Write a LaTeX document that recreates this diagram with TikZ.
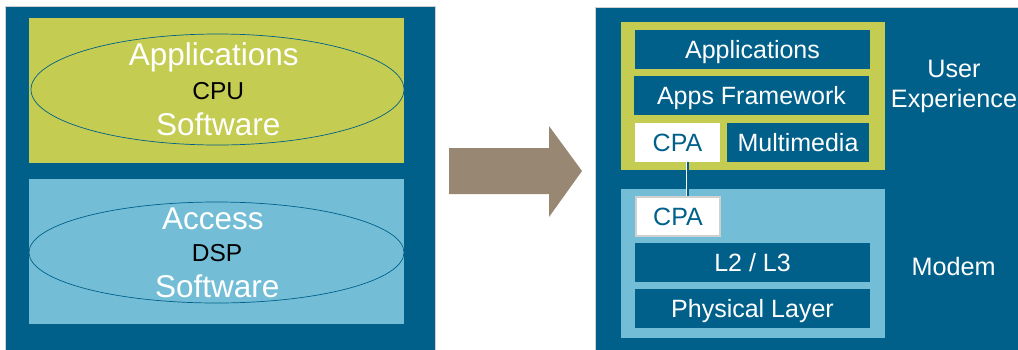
\documentclass[tikz,border=0pt]{standalone}
\usepackage{fontspec}
\setmainfont{Liberation Sans}
\usetikzlibrary{shapes.geometric}
\definecolor{dkblue}{RGB}{0,96,138}
\definecolor{lime}{RGB}{196,204,81}
\definecolor{ltblue}{RGB}{115,190,214}
\definecolor{taupe}{RGB}{152,135,115}
\definecolor{rimgray}{RGB}{208,208,208}
\tikzset{
  panel/.style={fill=dkblue, draw=rimgray, line width=0.8pt},
  layer/.style={rectangle, fill=dkblue, inner sep=0pt, text=white,
    font=\fontsize{25}{30}\selectfont, text height=18pt, text depth=0pt,
    minimum height=39pt},
  cpabox/.style={layer, fill=white, text=dkblue},
  ring/.style={ellipse, draw=dkblue, line width=0.7pt, inner sep=0pt},
  bigtxt/.style={anchor=base, text=white, inner sep=0pt, font=\fontsize{31.5}{36}\selectfont},
  coretxt/.style={anchor=base, text=black, inner sep=0pt, font=\fontsize{24.5}{30}\selectfont},
  sidetxt/.style={anchor=base, text=white, inner sep=0pt, font=\fontsize{25.2}{30}\selectfont},
  link/.style={draw=white, line width=0.8pt, double=dkblue, double distance=2pt}
}
\begin{document}
\begin{tikzpicture}[x=1pt, y=-1pt]
\useasboundingbox (0,0) rectangle (1018,349);
\clip (0,0) rectangle (1018,349);
\fill[white] (0,0) rectangle (1018,349);

% left panel: two software domains
\draw[panel] (5,6) rectangle (435,352);
\fill[lime] (29,18) rectangle (404,163);
\fill[ltblue] (29,179) rectangle (404,324);
\node[ring, minimum width=373pt, minimum height=111pt] (cpuring) at (217.5,89.5) {};
\node[ring, minimum width=375pt, minimum height=101pt] (dspring) at (216.5,252.5) {};
\node[bigtxt] (apptxt) at (213.8,65.7) {Applications};
\node[coretxt] (cputxt) at (218.3,99) {CPU};
\node[bigtxt] (swtxta) at (218.3,135) {Software};
\node[bigtxt] (acctxt) at (212.8,229) {Access};
\node[coretxt] (dsptxt) at (217,261.7) {DSP};
\node[bigtxt] (swtxtb) at (217.2,297.7) {Software};

% transition arrow
\fill[taupe] (449,148) -- (549,148) -- (549,126) -- (582,171) -- (549,217)
  -- (549,194) -- (449,194) -- cycle;

% right panel: layered stack
\draw[panel] (595,7) rectangle (1022,352);
\fill[lime] (621,22) rectangle (885,170);
\fill[ltblue] (621,189) rectangle (885,338);
\node[layer, minimum width=235pt] (apps) at (752.5,49.5) {Applications};
\node[layer, minimum width=235pt] (fw) at (751.5,95.5) {Apps Framework};
\node[cpabox, minimum width=85pt] (cpaup) at (677.5,142.5) {CPA};
\node[layer, minimum width=142pt] (mm) at (798,142.5) {Multimedia};
\node[cpabox, draw=rimgray, line width=2pt, minimum width=84pt] (cpalo) at (678,216.5) {CPA};
\node[layer, minimum width=235pt] (l23) at (752.5,262.5) {L2 / L3};
\node[layer, minimum width=235pt] (phy) at (752.5,308.5) {Physical Layer};
\draw[link] ([xshift=10pt]cpaup.south) -- ([xshift=10pt]cpaup.south |- cpalo.north);

\node[sidetxt] (user) at (954,77.3) {User};
\node[sidetxt] (exper) at (954,107.7) {Experience};
\node[sidetxt] (modem) at (953.7,275) {Modem};
\end{tikzpicture}
\end{document}
